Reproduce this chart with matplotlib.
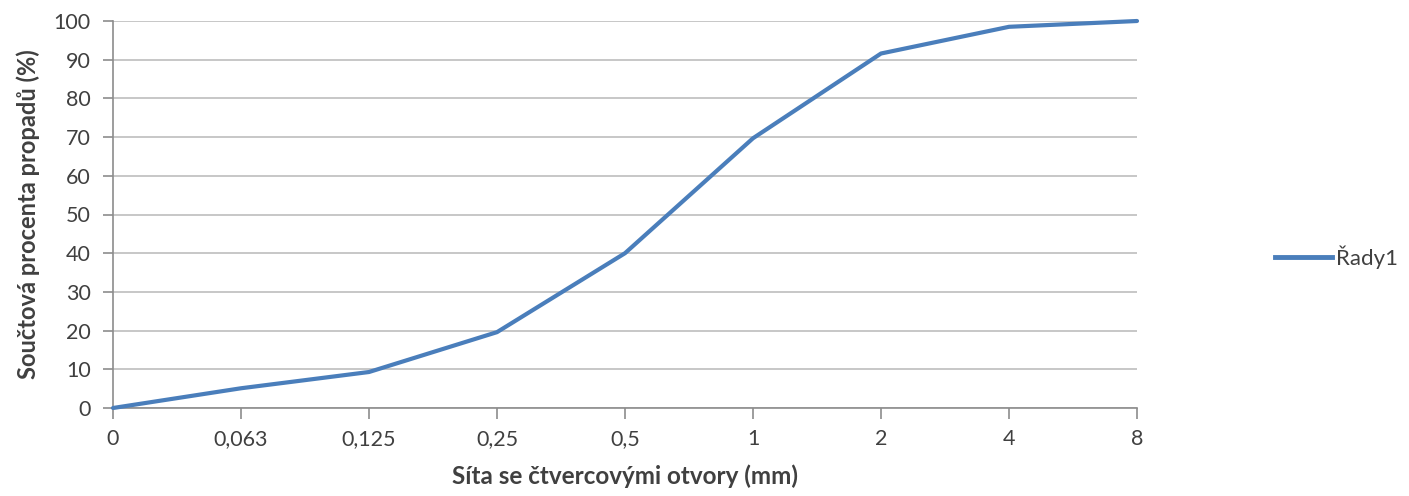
import matplotlib
matplotlib.use('Agg')
import matplotlib.pyplot as plt
from matplotlib.lines import Line2D

# sieve sizes (categories) and cumulative passing percentages
sieves = ['0', '0,063', '0,125', '0,25', '0,5', '1', '2', '4', '8']
passing = [0, 5.1, 9.3, 19.6, 40.0, 69.7, 91.6, 98.5, 100]
series_name = 'Řady1'

plt.rcParams['font.family'] = ['Lato', 'DejaVu Sans']

line_color = '#4A7EBB'
grid_color = '#BEBEBE'
axis_color = '#8C8C8C'
text_color = '#404040'

fig = plt.figure(figsize=(14.09, 4.96), dpi=100)
ax = fig.add_axes([113 / 1409, 1 - 408 / 496, (1137 - 113) / 1409, (408 - 21) / 496])

x = list(range(len(sieves)))
ax.plot(x, passing, color=line_color, linewidth=3, solid_joinstyle='round',
        solid_capstyle='round', zorder=3, clip_on=False)

ax.set_xlim(0, len(sieves) - 1)
ax.set_ylim(0, 100)
ax.set_yticks(range(0, 101, 10))
ax.set_xticks(x)
ax.set_xticklabels(sieves)

ax.yaxis.grid(True, color=grid_color, linewidth=1.2)
ax.set_axisbelow(True)

for side in ['top', 'right']:
    ax.spines[side].set_visible(False)
for side in ['left', 'bottom']:
    ax.spines[side].set_color(axis_color)
    ax.spines[side].set_linewidth(1.2)

ax.tick_params(axis='x', direction='out', length=8, width=1.2, color=axis_color,
               labelsize=15.5, labelcolor=text_color, pad=7)
ax.tick_params(axis='y', direction='out', length=7, width=1.2, color=axis_color,
               labelsize=15.5, labelcolor=text_color, pad=9)

ax.set_xlabel('Síta se čtvercovými otvory (mm)', fontsize=17.5, fontweight='bold',
              color=text_color, labelpad=11)
ax.set_ylabel('Součtová procenta propadů (%)', fontsize=17, fontweight='bold',
              color=text_color, labelpad=10)

handle = Line2D([0], [0], color=line_color, linewidth=3.5)
fig.legend([handle], [series_name], loc='center left', bbox_to_anchor=(1275 / 1409, 1 - 257 / 496),
           frameon=False, fontsize=16, handlelength=2.55, handletextpad=0.2,
           borderpad=0, borderaxespad=0, labelcolor=text_color)

fig.savefig('out.png', dpi=100)
